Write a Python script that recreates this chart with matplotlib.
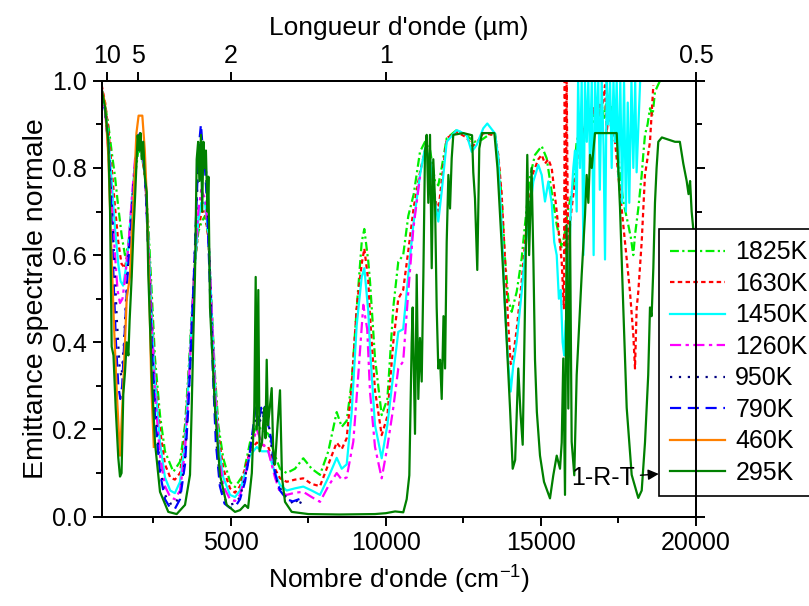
import matplotlib
matplotlib.use("Agg")
import matplotlib.pyplot as plt
from matplotlib.ticker import MultipleLocator, FixedLocator, NullLocator
import numpy as np

plt.rcParams['font.family'] = ['Liberation Sans', 'DejaVu Sans']
plt.rcParams['mathtext.fontset'] = 'custom'
plt.rcParams['mathtext.rm'] = 'Liberation Sans'
plt.rcParams['mathtext.it'] = 'Liberation Sans:italic'

# spectra: (wavenumber cm-1, emittance)
k1825 = np.array([
    (840, 0.98), (946, 0.945), (1053, 0.90), (1162, 0.837), (1269, 0.78), (1375, 0.71),
    (1485, 0.645), (1590, 0.60), (1700, 0.62), (1807, 0.71), (1914, 0.78), (2020, 0.84),
    (2130, 0.83), (2235, 0.78), (2343, 0.67), (2450, 0.516), (2558, 0.364), (2720, 0.233),
    (2880, 0.15), (3150, 0.103), (3365, 0.126), (3526, 0.21), (3633, 0.325), (3742, 0.463),
    (3848, 0.585), (3955, 0.654), (4064, 0.677), (4171, 0.69), (4277, 0.645), (4386, 0.478),
    (4493, 0.325), (4600, 0.21), (4760, 0.134), (4977, 0.08), (5138, 0.068), (5405, 0.096),
    (5621, 0.17), (5837, 0.21), (5998, 0.20), (6211, 0.19), (6427, 0.14), (6589, 0.11),
    (6804, 0.10), (7072, 0.11), (7340, 0.134), (7610, 0.11), (7878, 0.096), (8146, 0.15),
    (8417, 0.24), (8578, 0.206), (8739, 0.22), (8900, 0.31), (9062, 0.478), (9223, 0.63),
    (9307, 0.66), (9436, 0.585), (9490, 0.54), (9651, 0.364), (9867, 0.233), (10050, 0.27),
    (10241, 0.48), (10402, 0.585), (10560, 0.60), (10725, 0.69), (10900, 0.74), (11102, 0.837),
    (11263, 0.86), (11430, 0.84), (11586, 0.77), (11692, 0.76), (11800, 0.80), (11963, 0.868),
    (12285, 0.887), (12600, 0.875), (12850, 0.86), (13100, 0.865), (13300, 0.875), (13520, 0.88),
    (13627, 0.822), (13735, 0.73), (13842, 0.593), (13949, 0.50), (14058, 0.47), (14220, 0.516),
    (14381, 0.593), (14487, 0.67), (14648, 0.78), (14810, 0.83), (15026, 0.85), (15187, 0.822),
    (15348, 0.745), (15510, 0.67), (15671, 0.616), (15777, 0.654), (15884, 0.707), (16045, 0.76),
    (16100, 0.82), (16154, 0.86), (16230, 0.88), (16315, 0.90), (16380, 0.87), (16450, 0.92),
    (16528, 0.91), (16600, 0.94), (16660, 0.90), (16744, 0.93), (16820, 0.96), (16880, 0.92),
    (16960, 0.945), (17040, 0.91), (17121, 0.96), (17200, 0.92), (17282, 0.94), (17360, 0.90),
    (17444, 0.876), (17500, 0.83), (17550, 0.784), (17656, 0.723), (17818, 0.669), (17900, 0.64),
    (17979, 0.60), (18034, 0.646), (18140, 0.707), (18250, 0.784), (18300, 0.83), (18356, 0.876),
    (18440, 0.90), (18517, 0.937), (18600, 0.92), (18678, 0.975), (18839, 1.0)])

k1630 = np.array([
    (840, 0.99), (950, 0.95), (1053, 0.89), (1160, 0.80), (1270, 0.71), (1375, 0.63),
    (1480, 0.58), (1590, 0.57), (1700, 0.62), (1810, 0.72), (1914, 0.80), (2020, 0.85),
    (2130, 0.84), (2235, 0.78), (2343, 0.64), (2450, 0.48), (2558, 0.33), (2720, 0.20),
    (2880, 0.12), (3050, 0.09), (3200, 0.085), (3365, 0.10), (3526, 0.19), (3633, 0.31),
    (3742, 0.45), (3848, 0.58), (3955, 0.66), (4064, 0.70), (4171, 0.70), (4277, 0.64),
    (4386, 0.47), (4493, 0.31), (4600, 0.19), (4760, 0.11), (4977, 0.065), (5138, 0.055),
    (5300, 0.07), (5460, 0.11), (5621, 0.15), (5837, 0.17), (6000, 0.165), (6211, 0.16),
    (6427, 0.11), (6589, 0.088), (6804, 0.08), (7072, 0.085), (7340, 0.088), (7610, 0.075),
    (7878, 0.07), (8146, 0.12), (8417, 0.17), (8578, 0.155), (8739, 0.18), (8900, 0.30),
    (9062, 0.48), (9223, 0.58), (9307, 0.615), (9436, 0.54), (9490, 0.46), (9651, 0.29),
    (9867, 0.187), (10050, 0.23), (10241, 0.40), (10402, 0.50), (10560, 0.52), (10725, 0.61),
    (10900, 0.71), (11102, 0.79), (11263, 0.84), (11430, 0.82), (11586, 0.73), (11692, 0.70),
    (11800, 0.77), (11963, 0.868), (12285, 0.883), (12600, 0.87), (12800, 0.85), (12950, 0.86),
    (13143, 0.88), (13520, 0.875), (13627, 0.83), (13735, 0.74), (13842, 0.59), (13949, 0.44),
    (14026, 0.35), (14110, 0.37), (14220, 0.43), (14381, 0.54), (14542, 0.67), (14756, 0.79),
    (14917, 0.82), (15026, 0.83), (15132, 0.81), (15240, 0.82), (15348, 0.80), (15510, 0.70),
    (15671, 0.585), (15740, 0.478), (15770, 1.0), (15800, 0.60), (15830, 1.0), (15884, 0.555),
    (15938, 0.67), (15990, 0.707), (16154, 0.80), (16230, 0.87), (16315, 0.90), (16400, 0.88),
    (16450, 0.93), (16528, 0.906), (16600, 0.89), (16680, 0.94), (16744, 0.914), (16820, 0.90),
    (16900, 0.95), (16960, 0.929), (17067, 0.99), (17120, 0.88), (17175, 0.92), (17280, 0.89),
    (17390, 0.86), (17500, 0.78), (17603, 0.707), (17765, 0.593), (17872, 0.516), (17979, 0.417),
    (18034, 0.34), (18087, 0.478), (18140, 0.516), (18250, 0.631), (18356, 0.784), (18517, 0.86),
    (18625, 0.99)])

k1450 = np.array([
    (840, 0.98), (950, 0.94), (1053, 0.87), (1160, 0.77), (1270, 0.66), (1375, 0.58),
    (1450, 0.54), (1530, 0.53), (1620, 0.57), (1700, 0.62), (1810, 0.72), (1914, 0.81),
    (2020, 0.85), (2130, 0.85), (2235, 0.79), (2343, 0.64), (2450, 0.46), (2558, 0.31),
    (2720, 0.17), (2880, 0.09), (3050, 0.06), (3200, 0.054), (3365, 0.08), (3526, 0.17),
    (3633, 0.30), (3742, 0.45), (3848, 0.58), (3955, 0.68), (4050, 0.72), (4171, 0.72),
    (4277, 0.65), (4386, 0.47), (4493, 0.30), (4600, 0.17), (4760, 0.09), (4977, 0.05),
    (5138, 0.045), (5300, 0.06), (5460, 0.10), (5621, 0.14), (5837, 0.16), (6000, 0.15),
    (6211, 0.15), (6427, 0.10), (6589, 0.073), (6804, 0.06), (7072, 0.065), (7340, 0.069),
    (7610, 0.06), (7878, 0.05), (8146, 0.09), (8417, 0.135), (8578, 0.11), (8739, 0.12),
    (8900, 0.24), (9062, 0.44), (9223, 0.55), (9307, 0.57), (9436, 0.47), (9490, 0.386),
    (9651, 0.21), (9867, 0.134), (10050, 0.21), (10241, 0.325), (10402, 0.424), (10560, 0.43),
    (10725, 0.555), (10886, 0.669), (11102, 0.784), (11263, 0.845), (11425, 0.822),
    (11586, 0.723), (11692, 0.677), (11802, 0.746), (11963, 0.86), (12285, 0.887),
    (12607, 0.876), (12770, 0.837), (12930, 0.853), (13143, 0.891), (13272, 0.902),
    (13520, 0.879), (13627, 0.822), (13735, 0.669), (13842, 0.478), (13949, 0.348),
    (14026, 0.287), (14110, 0.348), (14220, 0.402), (14381, 0.516), (14542, 0.646),
    (14756, 0.769), (14917, 0.807), (15026, 0.784), (15132, 0.723), (15240, 0.769),
    (15348, 0.72), (15430, 0.63), (15510, 0.60), (15580, 0.50), (15640, 0.52), (15700, 0.40),
    (15750, 0.37), (15800, 0.45), (15850, 0.36), (15900, 0.55), (15960, 0.70), (16045, 0.80),
    (16100, 0.84), (16154, 0.70), (16200, 1.0), (16260, 0.80), (16315, 1.0), (16370, 0.60),
    (16420, 1.0), (16480, 0.86), (16528, 1.0), (16580, 0.82), (16640, 1.0), (16700, 0.60),
    (16744, 1.0), (16800, 0.88), (16850, 1.0), (16900, 0.75), (16960, 1.0), (17020, 0.85),
    (17067, 0.59), (17121, 1.0), (17175, 0.90), (17230, 1.0), (17282, 0.80), (17340, 1.0),
    (17390, 0.86), (17444, 1.0), (17500, 0.78), (17560, 1.0), (17620, 0.72), (17680, 1.0),
    (17740, 0.70), (17800, 0.95), (17850, 0.72), (17920, 1.0), (17980, 0.80), (18040, 1.0),
    (18086, 0.79), (18200, 1.0)])

k1260 = np.array([
    (840, 0.98), (950, 0.93), (1053, 0.84), (1160, 0.72), (1270, 0.60), (1350, 0.52),
    (1430, 0.49), (1510, 0.50), (1600, 0.55), (1700, 0.62), (1810, 0.73), (1914, 0.82),
    (2020, 0.86), (2130, 0.85), (2235, 0.79), (2343, 0.63), (2450, 0.44), (2558, 0.28),
    (2720, 0.14), (2880, 0.07), (3050, 0.045), (3200, 0.04), (3365, 0.06), (3526, 0.15),
    (3633, 0.28), (3742, 0.44), (3848, 0.60), (3955, 0.70), (4050, 0.75), (4171, 0.73),
    (4277, 0.66), (4386, 0.47), (4493, 0.29), (4600, 0.15), (4760, 0.07), (4977, 0.04),
    (5138, 0.036), (5300, 0.05), (5460, 0.09), (5621, 0.15), (5837, 0.20), (6000, 0.17),
    (6211, 0.15), (6427, 0.09), (6589, 0.055), (6804, 0.05), (7072, 0.055), (7340, 0.057),
    (7610, 0.045), (7878, 0.034), (8146, 0.07), (8417, 0.10), (8578, 0.085), (8739, 0.09),
    (8952, 0.172), (9113, 0.325), (9274, 0.486), (9400, 0.43), (9490, 0.287), (9651, 0.16),
    (9867, 0.088), (10050, 0.16), (10241, 0.25), (10402, 0.34), (10560, 0.356),
    (10725, 0.516), (10886, 0.66), (11102, 0.78)])

k950 = np.array([
    (840, 0.98), (950, 0.935), (1053, 0.86), (1160, 0.72), (1250, 0.58), (1330, 0.45),
    (1420, 0.34), (1480, 0.32), (1560, 0.40), (1660, 0.55), (1780, 0.68), (1900, 0.79),
    (2000, 0.86), (2080, 0.87), (2160, 0.85), (2250, 0.77), (2343, 0.61), (2450, 0.41),
    (2558, 0.25), (2720, 0.11), (2880, 0.05), (3050, 0.03), (3200, 0.028), (3365, 0.05),
    (3526, 0.13), (3633, 0.26), (3742, 0.43), (3848, 0.62), (3930, 0.77), (4000, 0.85),
    (4060, 0.87), (4130, 0.82), (4200, 0.80), (4280, 0.66), (4360, 0.49), (4450, 0.31),
    (4560, 0.15), (4700, 0.06), (4850, 0.035), (4977, 0.028), (5138, 0.03), (5300, 0.045),
    (5460, 0.09), (5621, 0.15), (5750, 0.21), (5837, 0.24), (5950, 0.22), (6050, 0.25),
    (6150, 0.24), (6250, 0.20), (6350, 0.14), (6500, 0.08), (6700, 0.05), (6900, 0.04),
    (7000, 0.03), (7100, 0.04), (7200, 0.025), (7300, 0.04), (7400, 0.035)])

k790 = np.array([
    (840, 0.98), (950, 0.93), (1053, 0.85), (1110, 0.78), (1160, 0.68), (1230, 0.53),
    (1300, 0.40), (1375, 0.30), (1440, 0.27), (1500, 0.30), (1580, 0.42), (1680, 0.56),
    (1800, 0.68), (1914, 0.80), (2000, 0.87), (2080, 0.88), (2160, 0.85), (2250, 0.77),
    (2343, 0.60), (2450, 0.40), (2558, 0.23), (2720, 0.10), (2880, 0.04), (3050, 0.02),
    (3200, 0.018), (3365, 0.04), (3526, 0.12), (3633, 0.25), (3742, 0.42), (3848, 0.62),
    (3930, 0.78), (4000, 0.87), (4040, 0.90), (4100, 0.84), (4171, 0.80), (4250, 0.70),
    (4330, 0.52), (4420, 0.34), (4520, 0.17), (4650, 0.07), (4800, 0.03), (4977, 0.02),
    (5138, 0.022), (5300, 0.04), (5460, 0.08), (5621, 0.15), (5750, 0.22), (5837, 0.27),
    (5900, 0.21), (5980, 0.25), (6050, 0.23), (6150, 0.27), (6211, 0.21), (6300, 0.18),
    (6427, 0.10), (6589, 0.06), (6804, 0.04), (7000, 0.035), (7200, 0.04), (7400, 0.045)])

k460 = np.array([
    (840, 0.98), (946, 0.95), (1053, 0.83), (1130, 0.66), (1230, 0.45), (1330, 0.28),
    (1430, 0.14), (1536, 0.30), (1646, 0.50), (1750, 0.55), (1860, 0.72), (1960, 0.88),
    (2030, 0.92), (2150, 0.92), (2230, 0.84), (2300, 0.72), (2380, 0.50), (2440, 0.30),
    (2520, 0.16)])

k295 = np.array([
    (840, 0.98), (946, 0.94), (1053, 0.86), (1108, 0.71), (1162, 0.39), (1220, 0.37),
    (1291, 0.25), (1375, 0.135), (1430, 0.092), (1480, 0.10), (1536, 0.28), (1590, 0.33),
    (1646, 0.40), (1700, 0.37), (1740, 0.45), (1807, 0.55), (1860, 0.65), (1914, 0.73),
    (2000, 0.875), (2050, 0.84), (2090, 0.88), (2130, 0.82), (2180, 0.86), (2230, 0.78),
    (2291, 0.745), (2343, 0.555), (2452, 0.325), (2558, 0.17), (2720, 0.057), (2987, 0.011),
    (3258, 0.006), (3526, 0.027), (3687, 0.096), (3742, 0.25), (3793, 0.41), (3848, 0.555),
    (3880, 0.71), (3903, 0.82), (3950, 0.86), (3990, 0.77), (4041, 0.876), (4080, 0.70),
    (4120, 0.86), (4160, 0.80), (4200, 0.84), (4250, 0.70), (4280, 0.78), (4332, 0.48),
    (4386, 0.40), (4493, 0.25), (4654, 0.096), (4870, 0.027), (5138, 0.011), (5300, 0.015),
    (5460, 0.027), (5560, 0.02), (5680, 0.10), (5760, 0.25), (5805, 0.55), (5840, 0.20),
    (5889, 0.52), (5930, 0.15), (6008, 0.17), (6080, 0.25), (6120, 0.18), (6160, 0.36),
    (6202, 0.21), (6260, 0.25), (6321, 0.295), (6370, 0.15), (6427, 0.12), (6500, 0.20),
    (6589, 0.29), (6653, 0.09), (6750, 0.034), (6966, 0.011), (7500, 0.006), (8500, 0.005),
    (9651, 0.006), (10000, 0.008), (10300, 0.012), (10563, 0.01), (10673, 0.04),
    (10758, 0.095), (10834, 0.40), (10866, 0.48), (10941, 0.19), (10996, 0.555),
    (11048, 0.27), (11100, 0.41), (11157, 0.31), (11210, 0.55), (11263, 0.837),
    (11318, 0.876), (11370, 0.72), (11425, 0.876), (11480, 0.57), (11531, 0.82),
    (11585, 0.73), (11640, 0.48), (11692, 0.34), (11750, 0.36), (11802, 0.27), (11860, 0.46),
    (11910, 0.34), (11963, 0.63), (12017, 0.784), (12070, 0.707), (12124, 0.822),
    (12176, 0.876), (12500, 0.88), (12780, 0.875), (12820, 0.79), (12875, 0.73),
    (12949, 0.566), (13014, 0.845), (13100, 0.88), (13500, 0.88), (13600, 0.80),
    (13788, 0.555), (13900, 0.40), (14004, 0.25), (14091, 0.11), (14170, 0.13),
    (14271, 0.34), (14340, 0.24), (14413, 0.165), (14480, 0.45), (14561, 0.83), (14620, 0.60),
    (14700, 0.80), (14760, 0.58), (14810, 0.36), (14870, 0.24), (14971, 0.14), (15100, 0.08),
    (15293, 0.042), (15400, 0.095), (15510, 0.14), (15616, 0.11), (15671, 0.17),
    (15722, 0.363), (15777, 0.05), (15830, 0.669), (15884, 0.248), (15938, 0.677),
    (15992, 0.172), (16076, 0.095), (16154, 0.325), (16315, 0.555), (16422, 0.692),
    (16476, 0.784), (16530, 0.72), (16583, 0.83), (16640, 0.80), (16744, 0.88),
    (17444, 0.88), (17550, 0.71), (17656, 0.48), (17766, 0.25), (17927, 0.096),
    (18140, 0.043), (18250, 0.06), (18356, 0.17), (18460, 0.325), (18517, 0.48),
    (18570, 0.46), (18625, 0.57), (18678, 0.72), (18730, 0.80), (18785, 0.86), (18900, 0.87),
    (19107, 0.865), (19323, 0.86), (19480, 0.86), (19591, 0.81), (19700, 0.77),
    (19760, 0.74), (19810, 0.77), (19860, 0.70), (19913, 0.66), (20000, 0.62)])

labels = ['1825K', '1630K', '1450K', '1260K', '950K', '790K', '460K', '295K']
colors = ['#00ee00', '#ff0000', '#00ffff', '#ff00ff', '#000080', '#0000ff', '#ff8000', '#008000']
styles = [(0, (4, 1.5, 1, 1.5)), (0, (2, 1.5)), '-', (0, (5, 2, 1.5, 2)),
          (0, (1, 3)), (0, (5, 3)), '-', '-']
series = [k1825, k1630, k1450, k1260, k950, k790, k460, k295]

# top axis: wavelength in micrometres
top_um = [10, 5, 2, 1, 0.5]
top_labels = ['10', '5', '2', '1', '0.5']

fig = plt.figure(figsize=(8.09, 6.06), dpi=100)
ax = fig.add_axes([0.1257, 0.1474, 0.7346, 0.7193])

for d, lab, c, ls in zip(series, labels, colors, styles):
    ax.plot(d[:, 0], d[:, 1], color=c, linestyle=ls, lw=1.6, label=lab)

ax.set_xlim(840, 20000)
ax.set_ylim(0, 1.0)
ax.xaxis.set_major_locator(FixedLocator([5000, 10000, 15000, 20000]))
ax.xaxis.set_minor_locator(MultipleLocator(2500))
ax.yaxis.set_major_locator(MultipleLocator(0.2))
ax.yaxis.set_minor_locator(MultipleLocator(0.1))
ax.yaxis.set_major_formatter(plt.FormatStrFormatter('%.1f'))
ax.tick_params(which='both', direction='out', width=1.4, labelsize=18, right=True)
ax.tick_params(which='major', length=6.5, pad=4)
ax.tick_params(which='minor', length=4.5)
for s in ax.spines.values():
    s.set_linewidth(1.4)

ax.set_xlabel("Nombre d'onde (cm$^{-1}$)", fontsize=19, labelpad=6)
ax.set_ylabel("Emittance spectrale normale", fontsize=20.5, labelpad=2)

ax2 = ax.twiny()
ax2.set_xlim(ax.get_xlim())
ax2.set_xticks([1e4 / w for w in top_um])
ax2.set_xticklabels(top_labels)
ax2.xaxis.set_minor_locator(NullLocator())
ax2.tick_params(direction='out', length=6.5, width=1.4, labelsize=18, pad=3)
ax2.set_xlabel("Longueur d'onde (µm)", fontsize=19, labelpad=6)
for s in ax2.spines.values():
    s.set_linewidth(1.4)

leg = ax.legend(loc='upper left', bbox_to_anchor=(0.8146, 0.622),
                bbox_transform=fig.transFigure, fontsize=18, frameon=True,
                fancybox=False, framealpha=1, edgecolor='black', borderaxespad=0,
                handlelength=2.2, handletextpad=0.4, labelspacing=0.3, borderpad=0.45)
leg.get_frame().set_linewidth(1.2)

ax.annotate('1-R-T', xy=(18800, 0.098), xytext=(17000, 0.089), fontsize=18,
            ha='center', va='center',
            arrowprops=dict(arrowstyle='-|>', color='black', lw=1.0,
                            mutation_scale=16, shrinkA=2, shrinkB=0))

fig.savefig('out.png', dpi=100)
